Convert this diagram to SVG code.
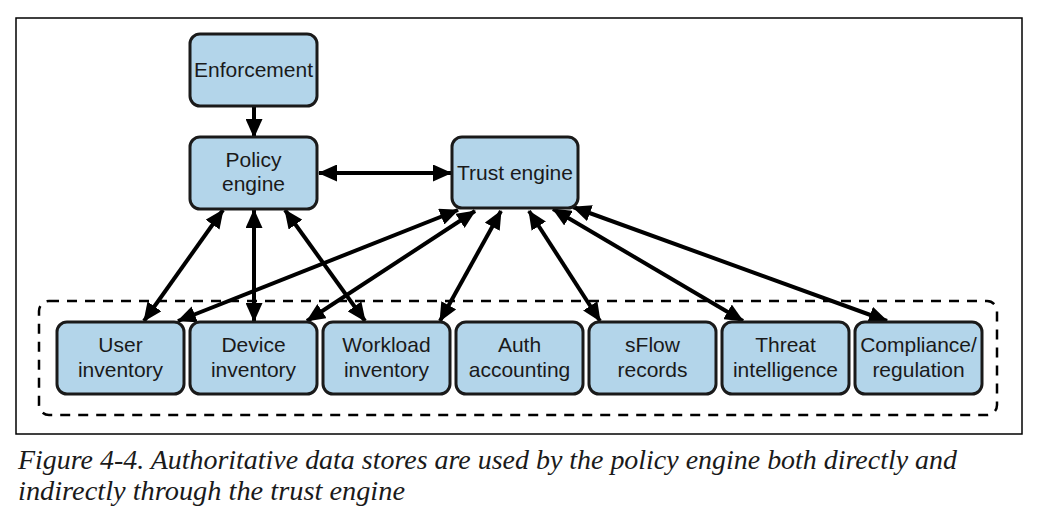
<svg xmlns="http://www.w3.org/2000/svg" width="1040" height="521" viewBox="0 0 1040 521">
<style>
.box{fill:#b3d5ea;stroke:#1a1a1a;stroke-width:3}
.lbl{font-family:"Liberation Sans",Arial,sans-serif;font-size:21px;fill:#1a1a1a;text-anchor:middle}
.cap{font-family:"Liberation Serif","Times New Roman",serif;font-style:italic;font-size:27px;fill:#1a1a1a}
.arr{stroke:#000;stroke-width:4;fill:none;marker-end:url(#ah)}
.bi{marker-start:url(#ah)}
</style>
<defs>
<marker id="ah" markerUnits="userSpaceOnUse" markerWidth="19" markerHeight="17" refX="18" refY="8.5" orient="auto-start-reverse">
<path d="M0,0 L19,8.5 L0,17 z" fill="#000"/>
</marker>
</defs>
<rect x="16" y="18" width="1006" height="416" fill="#fff" stroke="#000" stroke-width="1.5"/>
<rect id="container" x="39" y="301" width="958" height="114" rx="10" fill="none" stroke="#000" stroke-width="2.5" stroke-dasharray="10 8"/>
<g id="connectors">
<line class="arr" x1="254" y1="106" x2="254" y2="137"/>
<line class="arr bi" x1="319" y1="173" x2="451" y2="173"/>
<line class="arr bi" x1="223" y1="210" x2="144" y2="321"/>
<line class="arr bi" x1="254" y1="210" x2="254" y2="321"/>
<line class="arr bi" x1="285" y1="210" x2="365" y2="321"/>
<line class="arr bi" x1="458" y1="210" x2="178" y2="321"/>
<line class="arr bi" x1="475" y1="211" x2="307" y2="321"/>
<line class="arr bi" x1="501" y1="211" x2="440" y2="321"/>
<line class="arr bi" x1="529" y1="211" x2="600" y2="321"/>
<line class="arr bi" x1="553" y1="209" x2="743" y2="321"/>
<line class="arr bi" x1="573" y1="207" x2="887" y2="321"/>
</g>
<g id="enforcement"><rect class="box" x="190" y="34" width="127" height="72" rx="10"/><text class="lbl" x="253.5" y="77">Enforcement</text></g>
<g id="policy-engine"><rect class="box" x="190" y="137" width="127" height="72" rx="10"/><text class="lbl" x="253.5" y="167">Policy</text><text class="lbl" x="253.5" y="191">engine</text></g>
<g id="trust-engine"><rect class="box" x="452" y="137" width="126" height="71" rx="10"/><text class="lbl" x="515" y="180">Trust engine</text></g>
<g id="user-inventory"><rect class="box" x="57" y="322" width="127" height="72" rx="10"/><text class="lbl" x="120.5" y="352">User</text><text class="lbl" x="120.5" y="377">inventory</text></g>
<g id="device-inventory"><rect class="box" x="190" y="322" width="127" height="72" rx="10"/><text class="lbl" x="253.5" y="352">Device</text><text class="lbl" x="253.5" y="377">inventory</text></g>
<g id="workload-inventory"><rect class="box" x="323" y="322" width="127" height="72" rx="10"/><text class="lbl" x="386.5" y="352">Workload</text><text class="lbl" x="386.5" y="377">inventory</text></g>
<g id="auth-accounting"><rect class="box" x="456" y="322" width="127" height="72" rx="10"/><text class="lbl" x="519.5" y="352">Auth</text><text class="lbl" x="519.5" y="377">accounting</text></g>
<g id="sflow-records"><rect class="box" x="589" y="322" width="127" height="72" rx="10"/><text class="lbl" x="652.5" y="352">sFlow</text><text class="lbl" x="652.5" y="377">records</text></g>
<g id="threat-intelligence"><rect class="box" x="722" y="322" width="127" height="72" rx="10"/><text class="lbl" x="785.5" y="352">Threat</text><text class="lbl" x="785.5" y="377">intelligence</text></g>
<g id="compliance-regulation"><rect class="box" x="855" y="322" width="127" height="72" rx="10"/><text class="lbl" x="918.5" y="352">Compliance/</text><text class="lbl" x="918.5" y="377">regulation</text></g>
<text class="cap" x="18" y="469" textLength="939" lengthAdjust="spacingAndGlyphs">Figure 4-4. Authoritative data stores are used by the policy engine both directly and</text>
<text class="cap" x="18" y="500" textLength="387" lengthAdjust="spacingAndGlyphs">indirectly through the trust engine</text>
</svg>
